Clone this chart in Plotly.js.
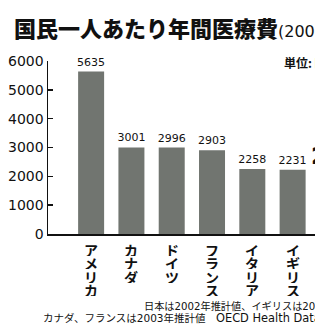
<!DOCTYPE html>
<html><head><meta charset="utf-8">
<script src="https://cdn.plot.ly/plotly-3.0.1.min.js"></script>
<style>html,body{margin:0;padding:0;overflow:hidden;background:#fff}#c{width:420px;height:324px}</style>
</head><body><div id="c"></div>
<script>
const countries = ['アメリカ','カナダ','ドイツ','フランス','イタリア','イギリス','日本'];
const spending = [5635, 3001, 2996, 2903, 2258, 2231, 2139];
const yTicks = [0, 1000, 2000, 3000, 4000, 5000, 6000];
const titleMain = '国民一人あたり年間医療費';
const titleSub = '(2003年)';
const unitLabel = '単位:ドル';
const note1 = '日本は2002年推計値、イギリスは2001年推計値';
const note2a = 'カナダ、フランスは2003年推計値　';
const note2b = 'OECD Health Data 2005';
const highlight = '日本';

const W = 420, H = 324, ML = 48, MR = 0, MT = 61, MB = 90;
const pxX = px => (px - ML) / (W - ML - MR);
const pxY = py => (H - MB - py) / (H - MT - MB);
const cjk = 'Noto Sans CJK JP';
const mixed = 'DejaVu Sans, Noto Sans CJK JP';
const barW = 0.645;

const annotations = [];
countries.forEach(c => {
  Array.from(c).forEach((ch, j) => {
    annotations.push({x: c, y: 0, xref: 'x', yref: 'y', text: ch, showarrow: false,
      yanchor: 'middle', xanchor: 'center', yshift: -(15 + j * 13.5),
      height: 13, width: 16,
      font: {family: cjk, size: 14, weight: 700, color: '#111'}});
  });
});
annotations.push({xref: 'paper', yref: 'paper', x: pxX(282), y: pxY(62), xanchor: 'left', yanchor: 'middle',
  text: unitLabel, showarrow: false, font: {family: cjk, size: 12, weight: 700, color: '#111'}});
annotations.push({xref: 'paper', yref: 'paper', x: pxX(142), y: pxY(306), xanchor: 'left', yanchor: 'middle',
  text: note1, showarrow: false, font: {family: mixed, size: 10.2, color: '#111'}});
annotations.push({xref: 'paper', yref: 'paper', x: pxX(41), y: pxY(318), xanchor: 'left', yanchor: 'middle',
  text: note2a + '<span style="font-size:11.4px">' + note2b + '</span>', showarrow: false,
  font: {family: mixed, size: 10.5, color: '#111'}});

const trace = {
  type: 'bar', x: countries, y: spending,
  marker: {color: '#717570', line: {width: 0}},
  width: barW,
  offset: countries.map(c => c === highlight ? -barW / 2 + 0.25 : -barW / 2),
  text: spending.map(String), textposition: 'outside', cliponaxis: false,
  constraintext: 'none',
  textfont: {
    family: 'DejaVu Sans',
    size: countries.map(c => c === highlight ? 23 : 11),
    weight: countries.map(c => c === highlight ? 700 : 400),
    color: '#111'
  },
  hoverinfo: 'skip'
};

const layout = {
  width: W, height: H,
  margin: {l: ML, r: MR, t: MT, b: MB, pad: 0},
  paper_bgcolor: '#fff', plot_bgcolor: '#fff',
  showlegend: false,
  title: {
    text: titleMain + '<span style="font-size:16px;font-weight:normal;font-family:DejaVu Sans, Noto Sans CJK JP">' + titleSub + '</span>',
    x: 14 / W, xref: 'container', xanchor: 'left',
    y: 1 - 29 / H, yref: 'container', yanchor: 'middle',
    font: {family: cjk, size: 22, weight: 900, color: '#111'}
  },
  xaxis: {type: 'category', range: [-1.07, (W - ML - MR) / 40.3 - 1.07],
    showline: true, linecolor: '#111', linewidth: 1.5, ticks: '', showticklabels: false,
    showgrid: false, zeroline: false, fixedrange: true},
  yaxis: {range: [0, 6000], tickvals: yTicks, ticktext: yTicks.map(String),
    ticks: 'inside', ticklen: 5, tickwidth: 1.5, tickcolor: '#111',
    showline: true, linecolor: '#111', linewidth: 1.5, showgrid: false, zeroline: false,
    tickfont: {family: 'DejaVu Sans', size: 14, color: '#111'}, fixedrange: true},
  annotations: annotations
};

Plotly.newPlot('c', [trace], layout, {staticPlot: true, displayModeBar: false});
</script></body></html>
